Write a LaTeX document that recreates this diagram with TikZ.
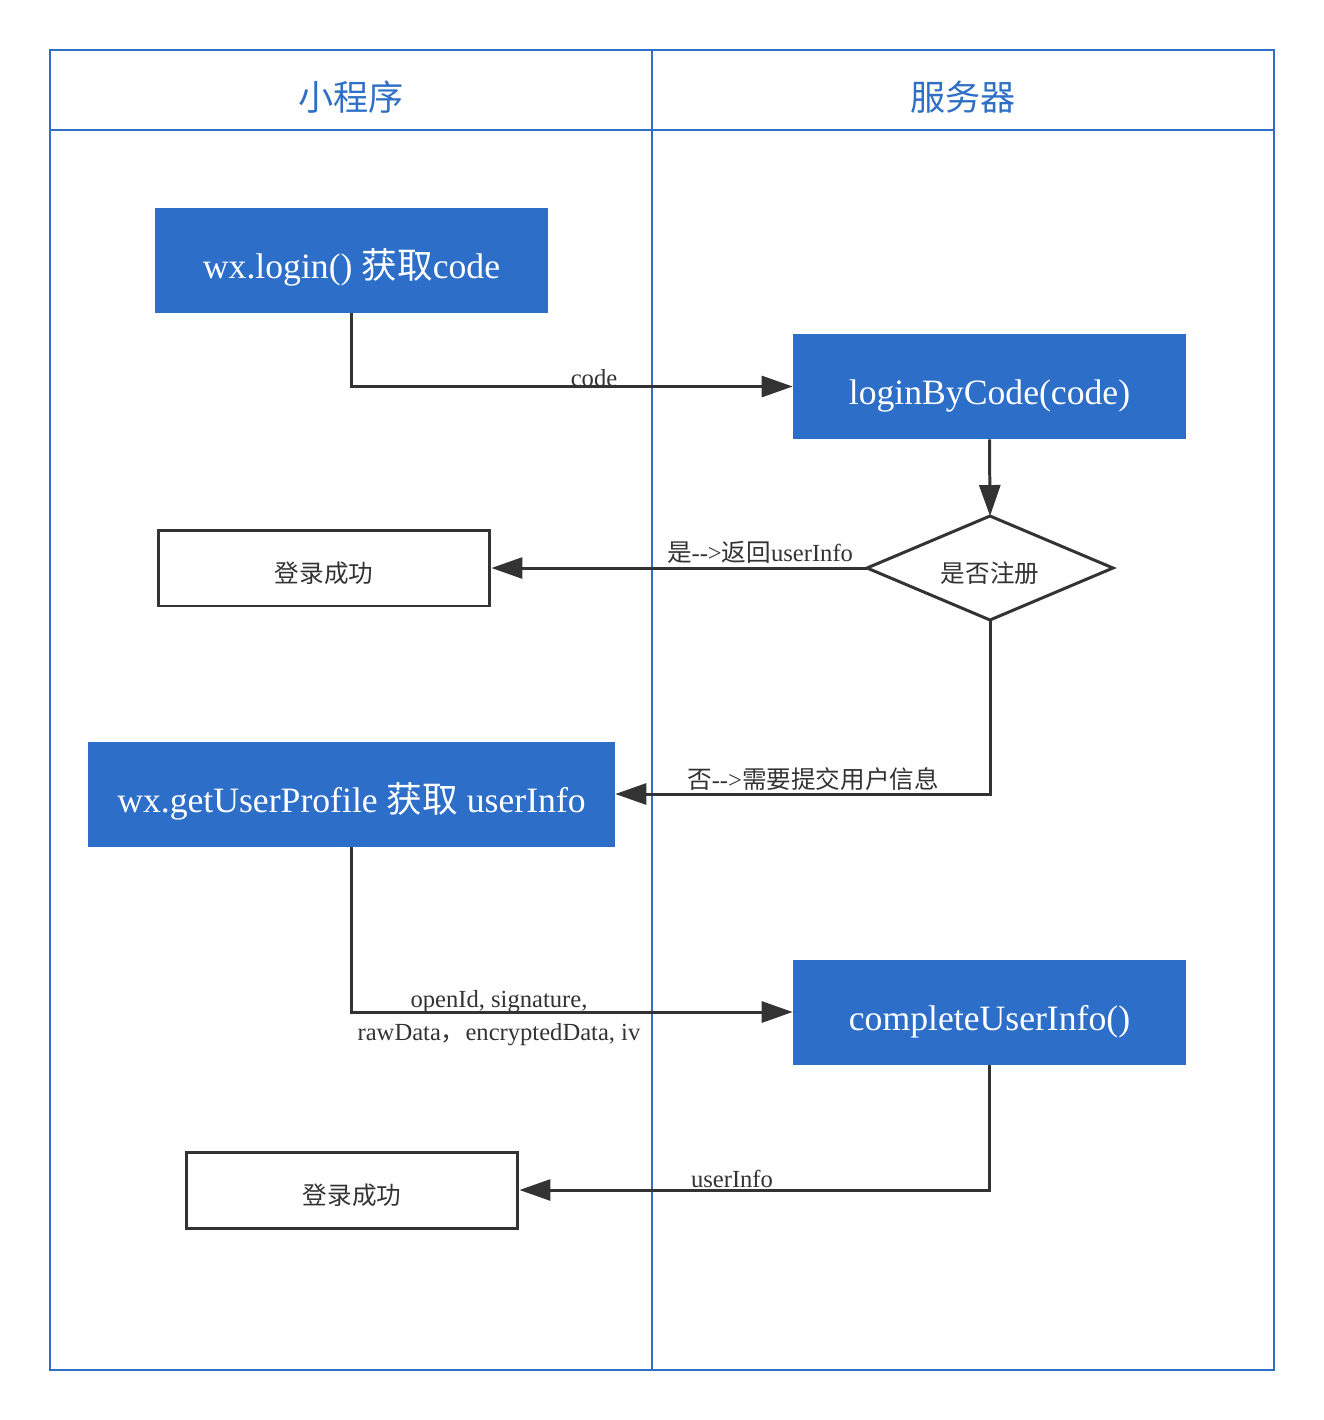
\documentclass[tikz,border=0pt]{standalone}
\usepackage{fontspec}
\setmainfont{Liberation Serif}
\newfontfamily\cjk{Noto Sans CJK SC}
\usetikzlibrary{shapes.geometric,arrows.meta}
\definecolor{laneblue}{HTML}{2F6FC6}
\definecolor{boxblue}{HTML}{2D6EC9}
\definecolor{ink}{HTML}{333333}
\newcommand{\dasharrow}{-\kern0pt-\kern0pt>}
\begin{document}
\begin{tikzpicture}[x=0.02cm, y=-0.02cm,
    lane/.style={draw=laneblue, line width=1.1pt},
    title/.style={text=laneblue, font=\fontsize{20}{24}\selectfont\cjk},
    task/.style={fill=boxblue, text=white, inner sep=0pt, minimum height=2.1cm,
      text height=21pt, text depth=0pt, font=\fontsize{20.3}{24}\selectfont},
    done/.style={draw=ink, line width=1.7pt, minimum width=6.64cm, minimum height=1.52cm,
      inner sep=0pt, text height=16pt, text depth=0pt, text=ink, font=\fontsize{14}{17}\selectfont\cjk},
    check/.style={diamond, aspect=2.37, draw=ink, line width=1.7pt, minimum width=4.92cm,
      minimum height=2.08cm, inner sep=0pt, outer sep=0pt, text height=16pt, text depth=0pt,
      text=ink, font=\fontsize{14}{17}\selectfont\cjk},
    flow/.style={draw=ink, line width=1.7pt, -{Triangle[length=0.62cm, width=0.42cm]}},
    tag/.style={text=ink, inner sep=0pt, font=\fontsize{14}{17}\selectfont}]
  \useasboundingbox (0,0) rectangle (1324,1420);

  % Swim lanes
  \draw[lane] (50,50) rectangle (1274,1370);
  \draw[lane] (50,130) -- (1274,130);
  \draw[lane] (652,50) -- (652,1370);
  \node[title] (laneApp) at (351,97) {小程序};
  \node[title] (laneSrv) at (963,97) {服务器};

  % Steps
  \node[task, minimum width=7.86cm] (login) at (351.5,260.5) {wx.login() {\cjk 获取}code};
  \node[task, minimum width=7.86cm] (byCode) at (989.5,386.5) {loginByCode(code)};
  \node[check] (isReg) at (990,568) {是否注册};
  \node[done] (okA) at (324,568) {登录成功};
  \node[task, minimum width=10.54cm] (profile) at (351.5,794) {wx.getUserProfile {\cjk 获取} userInfo};
  \node[task, minimum width=7.86cm] (complete) at (989.5,1012) {completeUserInfo()};
  \node[done] (okB) at (352,1190) {登录成功};

  % Connectors
  \draw[flow] (login.south) |- (byCode.west);
  \node[tag, anchor=base] (tagCode) at (594,386) {code};
  \draw[flow] (byCode.south) -- (isReg.north);
  \draw[flow] (isReg.west) -- (okA.east);
  \node[tag, anchor=base] (tagYes) at (760,561) {{\cjk 是}\dasharrow{\cjk 返回}userInfo};
  \draw[flow] (isReg.south) |- (profile.east);
  \node[tag, anchor=base] (tagNo) at (813,788) {{\cjk 否}\dasharrow{\cjk 需要提交用户信息}};
  \draw[flow] (profile.south) |- (complete.west);
  \node[tag, align=center] (tagData) at (499,1018) {openId, signature,\\[2pt] rawData{\cjk ，}encryptedData, iv};
  \draw[flow] (complete.south) |- (okB.east);
  \node[tag, anchor=base] (tagInfo) at (732,1187) {userInfo};
\end{tikzpicture}
\end{document}
